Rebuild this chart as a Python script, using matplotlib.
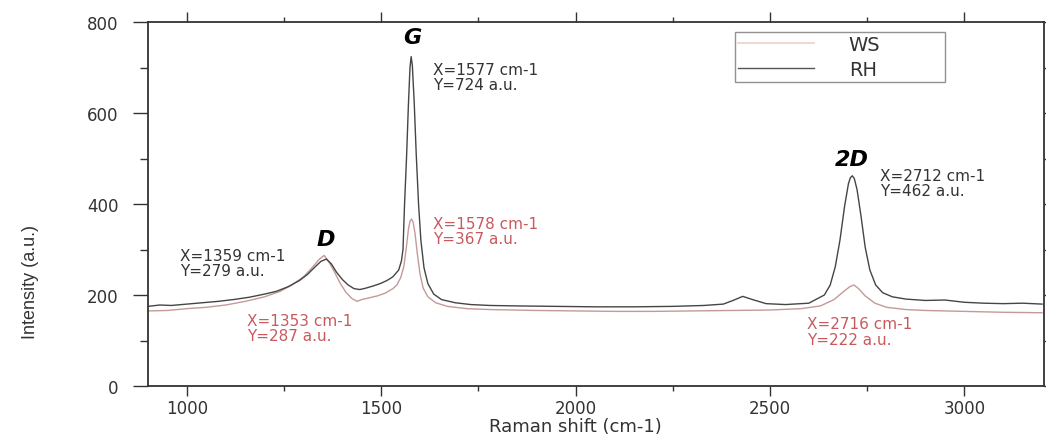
import matplotlib
matplotlib.use("Agg")
import matplotlib.pyplot as plt
from matplotlib.ticker import MultipleLocator

plt.rcParams['font.family'] = ['DejaVu Sans']

# ---- data ----
rh_x = [900, 930, 960, 1000, 1040, 1080, 1120, 1160, 1200, 1230, 1260, 1290, 1310, 1330,
        1345, 1359, 1372, 1385, 1400, 1415, 1430, 1445, 1460, 1480, 1500, 1515, 1530, 1545,
        1552, 1556, 1560, 1565, 1570, 1574, 1577, 1580, 1585, 1590, 1596, 1602, 1610, 1620,
        1635, 1655, 1690, 1730, 1780, 1850, 1950, 2050, 2150, 2250, 2330, 2380, 2405, 2430,
        2455, 2490, 2540, 2600, 2640, 2655, 2668, 2680, 2692, 2702, 2707, 2712, 2717, 2724,
        2734, 2745, 2757, 2772, 2790, 2815, 2850, 2900, 2950, 3000, 3050, 3100, 3150, 3200]
rh_y = [175, 178, 177, 180, 183, 186, 190, 195, 202, 208, 218, 232, 245, 262,
        274, 279, 268, 250, 234, 222, 214, 212, 215, 220, 226, 232, 240, 255,
        275, 300, 400, 500, 620, 700, 724, 705, 620, 510, 400, 320, 260, 225,
        202, 190, 183, 179, 177, 176, 175, 174, 174, 175, 177, 180, 188, 197,
        190, 181, 179, 182, 200, 222, 262, 320, 395, 445, 458, 462, 456, 432,
        375, 305, 255, 222, 205, 196, 191, 188, 189, 184, 182, 181, 182, 180]

ws_x = [900, 950, 1000, 1050, 1100, 1150, 1200, 1240, 1270, 1300, 1320, 1340, 1353, 1366,
        1380, 1395, 1410, 1425, 1438, 1450, 1470, 1490, 1510, 1530, 1540, 1550, 1558, 1564,
        1570, 1574, 1578, 1582, 1587, 1593, 1600, 1608, 1620, 1640, 1670, 1720, 1780, 1900,
        2000, 2100, 2200, 2300, 2400, 2500, 2580, 2630, 2665, 2690, 2705, 2716, 2728, 2745,
        2770, 2800, 2850, 2900, 3000, 3100, 3200]
ws_y = [165, 166, 170, 173, 178, 186, 196, 208, 222, 240, 258, 278, 287, 272,
        250, 225, 205, 192, 186, 190, 194, 198, 204, 214, 222, 238, 262, 300,
        345, 362, 367, 360, 335, 290, 245, 215, 196, 183, 175, 170, 168, 166,
        165, 164, 164, 165, 166, 167, 170, 176, 190, 208, 218, 222, 214, 198,
        182, 173, 168, 166, 164, 162, 161]

peak_labels = ['G', 'D', '2D']
peak_label_x = [1579, 1358, 2711]
peak_label_y = [768, 323, 499]

rh_notes = ['X=1577 cm-1\nY=724 a.u.', 'X=1359 cm-1\nY=279 a.u.', 'X=2712 cm-1\nY=462 a.u.']
rh_note_x = [1633, 982, 2784]
rh_note_y = [713, 304, 480]
ws_notes = ['X=1578 cm-1\nY=367 a.u.', 'X=1353 cm-1\nY=287 a.u.', 'X=2716 cm-1\nY=222 a.u.']
ws_note_x = [1633, 1155, 2596]
ws_note_y = [374, 161, 154]

RH_COLOR = '#454545'
WS_COLOR = '#c49a98'
WS_LEG = '#ecd6cc'
RED_TXT = '#c85a5e'
AX_COLOR = '#333333'

W, H = 1046, 439
L, R, T, B = 148, 1044, 23, 387
fig = plt.figure(figsize=(W / 100, H / 100), dpi=100)
ax = fig.add_axes([L / W, 1 - B / H, (R - L) / W, (B - T) / H])

ax.plot(ws_x, ws_y, color=WS_COLOR, lw=1.0)
ax.plot(rh_x, rh_y, color=RH_COLOR, lw=1.0)

ax.set_xlim(900, 3205)
ax.set_ylim(0, 800)
ax.xaxis.set_major_locator(MultipleLocator(500))
ax.xaxis.set_minor_locator(MultipleLocator(250))
ax.yaxis.set_major_locator(MultipleLocator(200))
ax.yaxis.set_minor_locator(MultipleLocator(100))
ax.tick_params(which='both', direction='out', top=True, right=True,
               colors=AX_COLOR, labelcolor=AX_COLOR, labelsize=12, width=1.0)
ax.tick_params(axis='x', which='major', length=7.2, pad=2)
ax.tick_params(axis='x', which='minor', length=3.6)
ax.tick_params(axis='y', which='major', length=10.8, pad=10.5)
ax.tick_params(axis='y', which='minor', length=5.8)
for s in ax.spines.values():
    s.set_color(AX_COLOR)
    s.set_linewidth(1.3)

ax.set_xlabel('Raman shift (cm-1)', fontsize=13, color=AX_COLOR)
ax.xaxis.set_label_coords((575 - L) / (R - L), (B - 418) / (B - T))
ax.set_ylabel('Intensity (a.u.)', fontsize=13, color=AX_COLOR,
              family=['Liberation Sans', 'DejaVu Sans'])
ax.yaxis.set_label_coords((39 - L) / (R - L), (B - 282) / (B - T))

for t, x, y in zip(peak_labels, peak_label_x, peak_label_y):
    ax.text(x, y, t, fontsize=16, fontweight='bold', style='italic',
            ha='center', va='center', color='black')
for t, x, y in zip(rh_notes, rh_note_x, rh_note_y):
    ax.text(x, y, t, fontsize=11, ha='left', va='top', color=AX_COLOR, linespacing=1.05)
for t, x, y in zip(ws_notes, ws_note_x, ws_note_y):
    ax.text(x, y, t, fontsize=11, ha='left', va='top', color=RED_TXT, linespacing=1.05)

h_ws, = ax.plot([], [], color=WS_LEG, lw=1.3)
h_rh, = ax.plot([], [], color='#555555', lw=1.0)
leg = ax.legend([h_ws, h_rh], ['WS', 'RH'], loc='upper left', mode='expand',
                bbox_to_anchor=((735 - L) / (R - L), (B - 33) / (B - T),
                                (945 - 735) / (R - L), 0),
                frameon=True, fancybox=False, edgecolor='#777777', fontsize=14,
                handlelength=3.9, handletextpad=1.8, borderpad=0.15,
                labelspacing=0.3, borderaxespad=0)
leg.get_frame().set_linewidth(1.0)
for t in leg.get_texts():
    t.set_color(AX_COLOR)

fig.savefig('out.png', dpi=100, facecolor='white')
